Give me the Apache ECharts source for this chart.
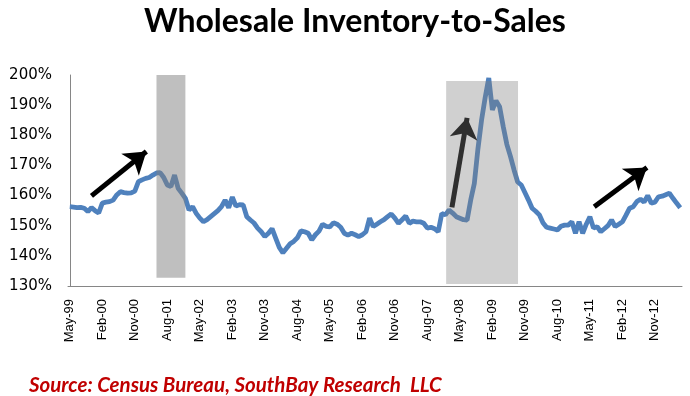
<!DOCTYPE html>
<html>
<head>
<meta charset="utf-8">
<script src="https://cdn.jsdelivr.net/npm/echarts@6/dist/echarts.min.js"></script>
<style>html,body{margin:0;padding:0;background:#fff}#c{width:690px;height:396px}</style>
</head>
<body>
<div id="c"></div>
<script>
// Monthly categories May-99 .. Jun-13
const monthNames = ['Jan','Feb','Mar','Apr','May','Jun','Jul','Aug','Sep','Oct','Nov','Dec'];
const startYear = 1999, startMonth = 4, monthCount = 170;
const categories = [];
for (let k = 0; k < monthCount; k++) {
  const m = (startMonth + k) % 12, y = startYear + Math.floor((startMonth + k) / 12);
  categories.push(monthNames[m] + '-' + String(y % 100).padStart(2, '0'));
}
// Inventory-to-sales ratio (%)
const ratio = [
  156.3,156.2,156.0,156.1,155.8,154.7,156.0,155.0,154.2,157.5,
  157.8,158.0,158.5,160.2,161.3,161.0,160.8,160.9,161.5,164.6,
  165.2,165.7,166.0,166.8,167.5,167.6,166.0,163.5,163.0,166.8,
  162.4,160.8,159.1,155.2,156.3,154.1,152.5,151.3,152.0,153.0,
  154.0,155.0,156.3,158.5,156.0,159.5,156.5,157.0,156.9,153.0,
  151.9,150.9,149.2,148.0,146.4,147.5,149.0,145.9,142.8,141.0,
  142.5,144.0,144.8,146.0,148.3,148.0,147.5,145.3,147.0,148.2,
  150.5,149.8,149.6,151.0,150.5,149.5,147.5,146.9,147.5,147.0,
  146.4,147.0,148.0,152.5,149.7,150.5,151.3,152.0,153.0,153.9,
  152.5,150.8,152.0,153.2,150.8,151.5,151.3,151.3,150.8,149.2,
  149.5,149.0,148.0,154.1,153.6,155.2,154.2,153.0,152.5,152.0,
  151.9,158.5,164.0,175.5,185.0,192.5,199.0,188.4,191.5,189.5,
  182.9,177.0,173.0,168.5,164.5,163.5,161.0,158.5,155.8,154.8,
  153.6,151.0,149.5,149.2,148.9,148.6,149.8,150.2,150.2,151.3,
  147.5,151.3,147.5,150.5,153.0,149.2,149.7,148.0,149.0,150.0,
  151.9,149.7,150.5,151.3,153.5,155.8,156.3,158.0,158.8,157.8,
  160.0,157.5,157.8,159.6,159.8,160.3,160.8,159.1,157.5,156.0
];
const yTicks = { min: 130, max: 200, step: 10 };
// Shaded recession periods: [start index, end index, low %, high %, opacity]
const shades = [[24.0, 32.0, 132.7, 200, 0.5], [104.2, 124.1, 130.7, 198, 0.37]];
// Trend arrows: [tail index, tail %, tip index, tip %]
const arrows = [[6.0, 159.9, 21.2, 174.6], [105.8, 156.1, 110.0, 185.8], [145.2, 156.3, 159.8, 169.3]];

const chart = echarts.init(document.getElementById('c'), null, { renderer: 'canvas' });
chart.setOption({
  animation: false,
  backgroundColor: '#fff',
  title: [
    { text: 'Wholesale Inventory-to-Sales', left: 139, top: 1,
      textStyle: { fontFamily: 'Lato', fontWeight: 'bold', fontSize: 32, color: '#000' } },
    { text: 'Source: Census Bureau, SouthBay Research  LLC', left: 24, top: 370,
      textStyle: { fontFamily: 'Lato', fontWeight: 'bold', fontStyle: 'italic', fontSize: 20.5, color: '#C00000' } }
  ],
  grid: { left: 68, right: 8, top: 75, bottom: 110, containLabel: false },
  xAxis: [
    { type: 'category', data: categories, boundaryGap: true,
      axisLine: { lineStyle: { color: '#868686', width: 1 } },
      axisTick: { show: false },
      axisLabel: { interval: 8, rotate: 90, margin: 13, fontFamily: 'Liberation Sans', fontSize: 13, color: '#000' } },
    { type: 'value', min: -0.5, max: monthCount - 0.5, show: false }
  ],
  yAxis: {
    type: 'value', min: yTicks.min, max: yTicks.max, interval: yTicks.step,
    axisLine: { show: true, lineStyle: { color: '#868686', width: 1 } },
    axisTick: { show: false }, splitLine: { show: false },
    axisLabel: { formatter: '{value}%', margin: 16, fontFamily: 'DejaVu Sans', fontSize: 15, color: '#000' }
  },
  series: [
    { type: 'line', data: ratio, symbol: 'none', z: 2,
      lineStyle: { color: '#4F81BD', width: 4.8 } },
    { type: 'line', xAxisIndex: 1, data: [], z: 3,
      markLine: { silent: true, z: 5, symbol: ['none', 'arrow'], symbolSize: 21,
        label: { show: false }, lineStyle: { color: '#000', width: 5, type: 'solid' },
        emphasis: { disabled: true },
        data: arrows.map(a => [{ coord: [a[0], a[1]] }, { coord: [a[2], a[3]] }]) } },
    { type: 'line', xAxisIndex: 1, data: [], z: 10,
      markArea: { silent: true, z: 10, label: { show: false },
        data: shades.map(s => [{ coord: [s[0], s[2]], itemStyle: { color: 'rgba(128,128,128,' + s[4] + ')' } }, { coord: [s[1], s[3]] }]) } }
  ]
});
</script>
</body>
</html>
